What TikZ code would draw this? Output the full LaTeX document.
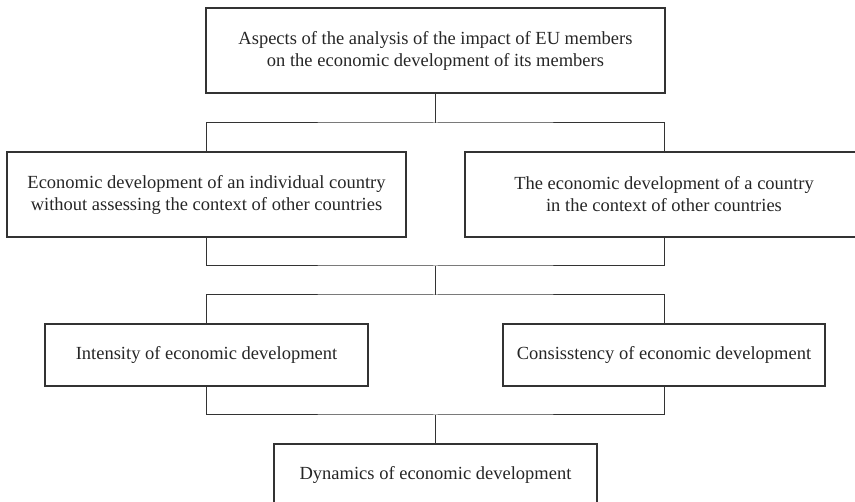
\documentclass[tikz,border=0pt]{standalone}
\usepackage{fontspec}
\setmainfont{Liberation Serif}
\begin{document}
\begin{tikzpicture}[x=1pt,y=-1pt,
  box/.style={draw=black!80, line width=1.4pt, rectangle, align=center, inner sep=0pt,
    font=\fontsize{18.5}{22}\selectfont, text=black!85},
  conn/.style={draw=black!80, line width=1pt}]
\useasboundingbox (0,0) rectangle (855,502);
\begin{scope}
\clip (0,0) rectangle (855,502);
\node[box, minimum width=459pt, minimum height=85pt] (top) at (435.5,50.5)
  {Aspects of the analysis of the impact of EU members\\on the economic development of its members};
\node[box, minimum width=399pt, minimum height=85pt] (left) at (206.5,194.5)
  {Economic development of an individual country\\without assessing the context of other countries};
\node[box, minimum width=398pt, minimum height=85pt] (right) at (664,194.5)
  {The economic development of a country\\in the context of other countries};
\node[box, minimum width=323pt, minimum height=62pt] (int) at (206.5,355)
  {Intensity of economic development};
\node[box, minimum width=322pt, minimum height=62pt] (cons) at (664,355)
  {Consisstency of economic development};
\node[box, minimum width=323pt, minimum height=62pt] (dyn) at (435.5,475)
  {Dynamics of economic development};
\coordinate (j1) at (435.5,123);
\coordinate (j2) at (435.5,266);
\coordinate (j3) at (435.5,295);
\coordinate (j4) at (435.5,415);
\draw[conn] (top.south) -- (j1);
\draw[conn] (left.north) |- (j1) -| (right.north);
\draw[conn] (left.south) |- (j2) -| (right.south);
\draw[conn] (j2) -- (j3);
\draw[conn] (int.north) |- (j3) -| (cons.north);
\draw[conn] (int.south) |- (j4) -| (cons.south);
\draw[conn] (j4) -- (dyn.north);
\end{scope}
\end{tikzpicture}
\end{document}
